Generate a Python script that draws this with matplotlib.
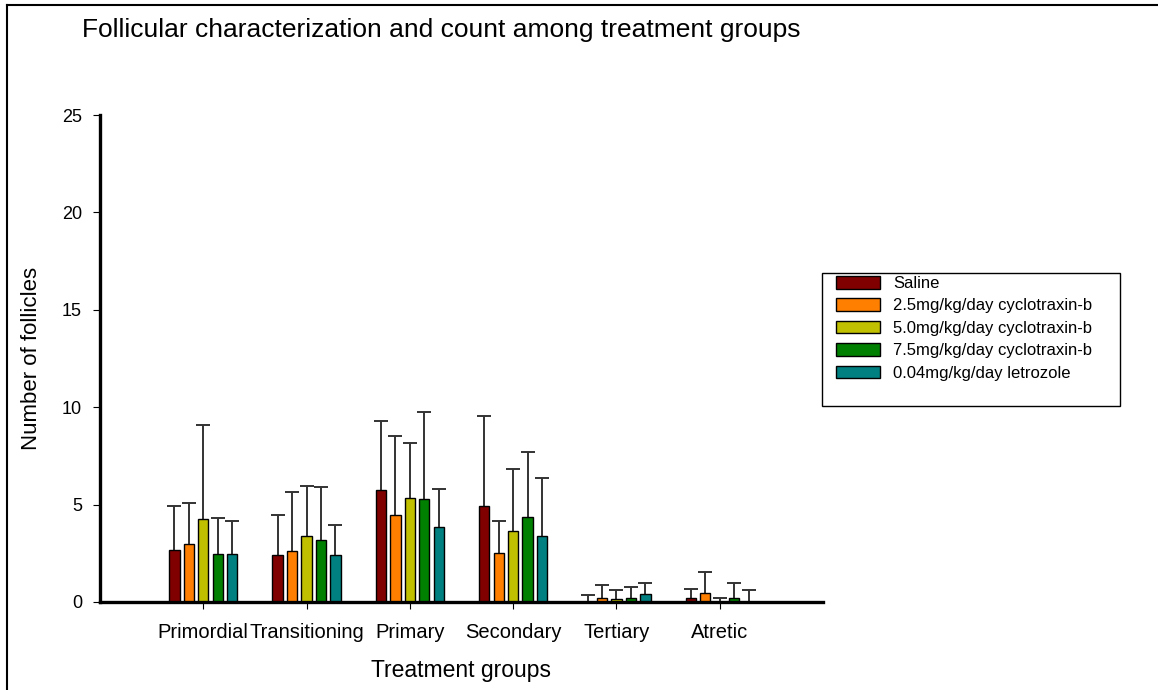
import numpy as np
import matplotlib
matplotlib.use("Agg")
import matplotlib.pyplot as plt
from matplotlib.lines import Line2D
from matplotlib.patches import Rectangle

plt.rcParams['font.family'] = ['Liberation Sans', 'DejaVu Sans']

# Follicle stages on the x axis
stages = ["Primordial", "Transitioning", "Primary", "Secondary", "Tertiary", "Atretic"]

# Treatment groups (legend entries)
groups = ["Saline",
          "2.5mg/kg/day cyclotraxin-b",
          "5.0mg/kg/day cyclotraxin-b",
          "7.5mg/kg/day cyclotraxin-b",
          "0.04mg/kg/day letrozole"]

# Mean follicle counts per group, one value per stage
saline_mean = [2.68, 2.40, 5.73, 4.94, 0.00, 0.20]
ctxb25_mean = [2.98, 2.62, 4.48, 2.52, 0.20, 0.45]
ctxb50_mean = [4.26, 3.40, 5.32, 3.63, 0.13, 0.00]
ctxb75_mean = [2.46, 3.17, 5.27, 4.38, 0.20, 0.20]
letro_mean = [2.46, 2.40, 3.83, 3.40, 0.40, 0.00]

# Upper error bar lengths per group
saline_err = [2.26, 2.08, 3.58, 4.61, 0.38, 0.49]
ctxb25_err = [2.12, 3.04, 4.06, 1.65, 0.65, 1.10]
ctxb50_err = [4.83, 2.57, 2.83, 3.18, 0.47, 0.20]
ctxb75_err = [1.87, 2.72, 4.50, 3.30, 0.58, 0.80]
letro_err = [1.71, 1.54, 1.97, 2.95, 0.60, 0.60]

means = [saline_mean, ctxb25_mean, ctxb50_mean, ctxb75_mean, letro_mean]
errors = [saline_err, ctxb25_err, ctxb50_err, ctxb75_err, letro_err]
colors = ["#800000", "#FF8000", "#C0C000", "#008000", "#008080"]

W, H = 1158, 690
fig = plt.figure(figsize=(W / 100, H / 100), dpi=100)
ax = fig.add_axes([100 / W, 1 - 602 / H, (823 - 100) / W, (602 - 115) / H])

x = np.arange(1, len(stages) + 1)
step = 0.14
width = 0.10
for i, (m, e, c, g) in enumerate(zip(means, errors, colors, groups)):
    pos = x + (i - 2) * step
    cont = ax.bar(pos, m, width=width, color=c, edgecolor="black", linewidth=1.0,
                  label=g, zorder=3,
                  yerr=[np.zeros(len(e)), e],
                  error_kw=dict(ecolor="#333333", elinewidth=1.4, capsize=5,
                                capthick=1.4, zorder=2))
    caps = cont.errorbar.lines[1]
    if caps:
        caps[0].set_visible(False)

ax.set_xlim(0, 7)
ax.set_ylim(0, 25)
ax.set_xticks(x)
ax.set_xticklabels(stages)
ax.set_yticks([0, 5, 10, 15, 20, 25])

for side in ("top", "right"):
    ax.spines[side].set_visible(False)
for side in ("left", "bottom"):
    ax.spines[side].set_linewidth(2.4)
    ax.spines[side].set_zorder(5)

ax.tick_params(axis="y", direction="out", length=5, width=0.8, pad=8,
               labelsize=13, colors="black")
ax.tick_params(axis="x", direction="out", length=5, width=0.8, pad=10,
               labelsize=14.5, colors="black")

fig.text(82 / W, 1 - 30 / H, "Follicular characterization and count among treatment groups",
         fontsize=19, ha="left", va="center")
fig.text(32 / W, 1 - 358 / H, "Number of follicles", rotation=90,
         fontsize=16, ha="center", va="center")
fig.text(461 / W, 1 - 671 / H, "Treatment groups", fontsize=16.5,
         ha="center", va="center")

leg = fig.legend(loc="upper left", bbox_to_anchor=(836 / W, 1 - 276 / H),
                 bbox_transform=fig.transFigure, borderaxespad=0, borderpad=0,
                 frameon=False, fontsize=12, handlelength=2.64, handleheight=0.78,
                 labelspacing=0.44, handletextpad=0.78)

# Legend box
fig.add_artist(Rectangle((822 / W, 1 - 406 / H), (1120 - 822) / W, (406 - 273) / H,
                         transform=fig.transFigure, fill=False,
                         edgecolor="black", linewidth=1.0))

# Outer frame lines along the left and top edges of the figure
fig.add_artist(Line2D([7 / W, 7 / W], [0, 1 - 5 / H], transform=fig.transFigure,
                      color="black", linewidth=1.5))
fig.add_artist(Line2D([7 / W, 1], [1 - 5 / H, 1 - 5 / H], transform=fig.transFigure,
                      color="black", linewidth=1.5))

fig.savefig("out.png", dpi=100)
